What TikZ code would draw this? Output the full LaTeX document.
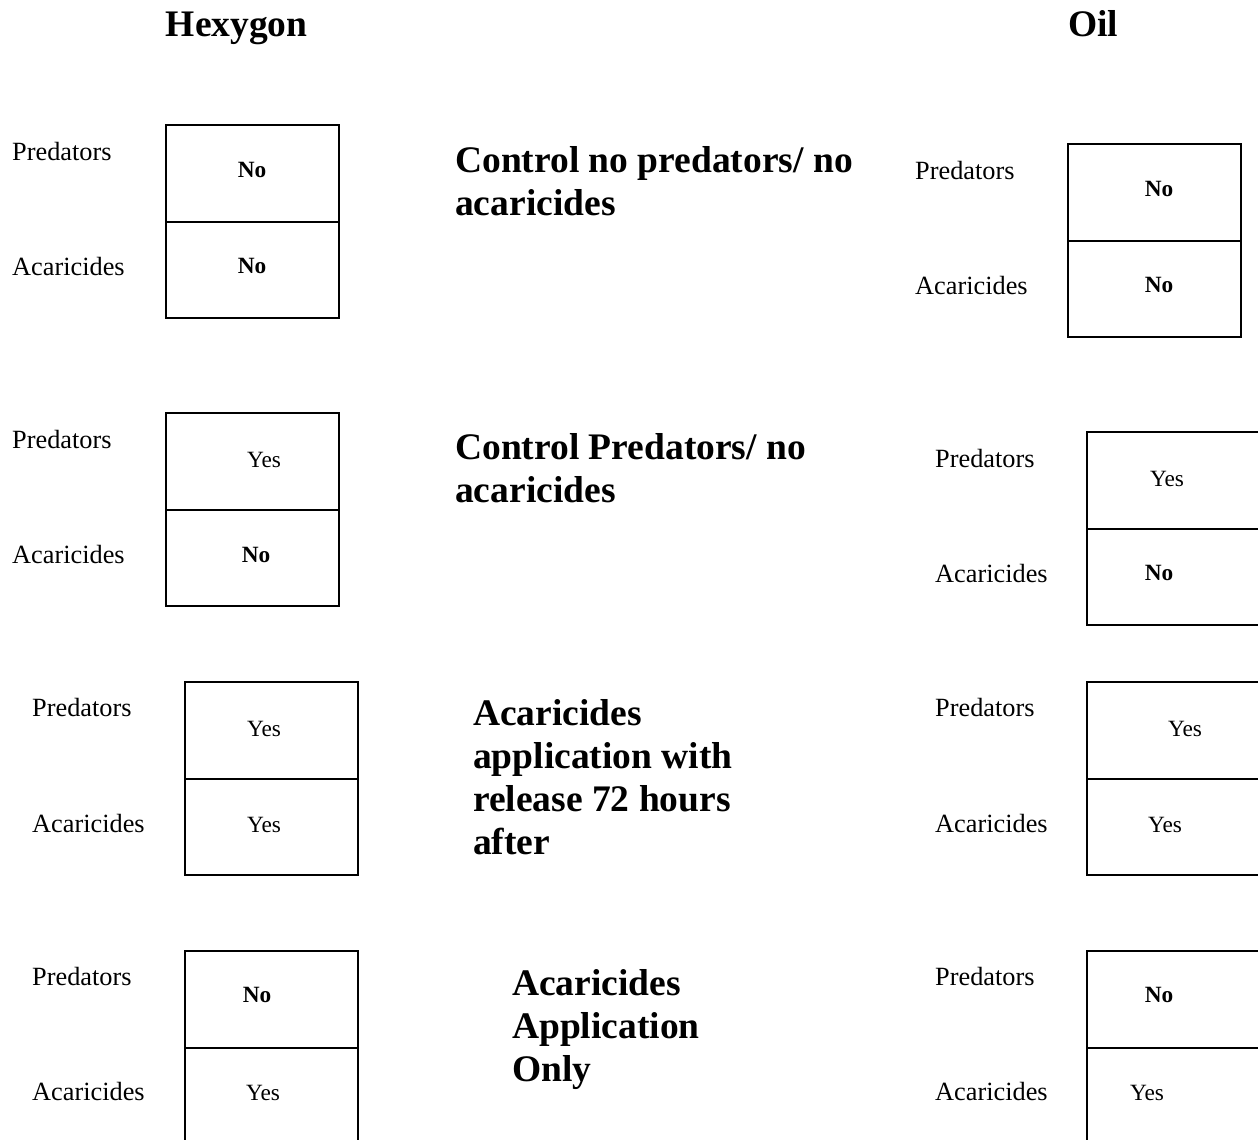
\documentclass[tikz,border=0pt]{standalone}
\usepackage{fontspec}
\setmainfont{Liberation Serif}
\begin{document}
\begin{tikzpicture}[x=1pt,y=-1pt,
  cell/.style={draw, line width=2pt, minimum width=173pt, minimum height=96.5pt, inner sep=0pt},
  lbl/.style={anchor=base west, inner sep=0pt, font=\fontsize{26.3}{30}\selectfont},
  val/.style={anchor=base, inner sep=0pt, font=\fontsize{23.3}{27}\selectfont},
  valb/.style={anchor=base, inner sep=0pt, font=\fontsize{23.3}{27}\selectfont\bfseries},
  ttl/.style={anchor=base, inner sep=0pt, font=\fontsize{37.5}{43}\selectfont\bfseries},
  mid/.style={anchor=base west, inner sep=0pt, font=\fontsize{37.5}{43}\selectfont\bfseries}]
\useasboundingbox (0,0) rectangle (1258,1140);
\clip (0,0) rectangle (1258,1140);

% titles
\node[ttl] (thex) at (236.7,37) {Hexygon};
\node[ttl] (toil) at (1093,37) {Oil};

% Hexygon boxes
\node[cell] (h1p) at (252.5,173.25) {};
\node[cell] (h1a) at (252.5,269.75) {};
\node[cell] (h2p) at (252.5,461.25) {};
\node[cell] (h2a) at (252.5,557.75) {};
\node[cell] (h3p) at (271.5,730.25) {};
\node[cell] (h3a) at (271.5,826.75) {};
\node[cell] (h4p) at (271.5,999.25) {};
\node[cell] (h4a) at (271.5,1095.75) {};

% Oil boxes
\node[cell] (o1p) at (1154.5,192.25) {};
\node[cell] (o1a) at (1154.5,288.75) {};
\node[cell] (o2p) at (1173.5,480.25) {};
\node[cell] (o2a) at (1173.5,576.75) {};
\node[cell] (o3p) at (1173.5,730.25) {};
\node[cell] (o3a) at (1173.5,826.75) {};
\node[cell] (o4p) at (1173.5,999.25) {};
\node[cell] (o4a) at (1173.5,1095.75) {};

% Hexygon values
\node[valb] (vh1p) at (252,177) {No};
\node[valb] (vh1a) at (252,273) {No};
\node[val]  (vh2p) at (264,467) {Yes};
\node[valb] (vh2a) at (256,562) {No};
\node[val]  (vh3p) at (264,736) {Yes};
\node[val]  (vh3a) at (264,832) {Yes};
\node[valb] (vh4p) at (257,1002) {No};
\node[val]  (vh4a) at (263,1100) {Yes};

% Oil values
\node[valb] (vo1p) at (1159,196) {No};
\node[valb] (vo1a) at (1159,292) {No};
\node[val]  (vo2p) at (1167,486) {Yes};
\node[valb] (vo2a) at (1159,580) {No};
\node[val]  (vo3p) at (1185,736) {Yes};
\node[val]  (vo3a) at (1165,832) {Yes};
\node[valb] (vo4p) at (1159,1002) {No};
\node[val]  (vo4a) at (1147,1100) {Yes};

% Hexygon labels
\node[lbl] (lh1p) at (12,160) {Predators};
\node[lbl] (lh1a) at (12,275) {Acaricides};
\node[lbl] (lh2p) at (12,448) {Predators};
\node[lbl] (lh2a) at (12,563) {Acaricides};
\node[lbl] (lh3p) at (32,716) {Predators};
\node[lbl] (lh3a) at (32,832) {Acaricides};
\node[lbl] (lh4p) at (32,985) {Predators};
\node[lbl] (lh4a) at (32,1100) {Acaricides};

% Oil labels
\node[lbl] (lo1p) at (915,179) {Predators};
\node[lbl] (lo1a) at (915,294) {Acaricides};
\node[lbl] (lo2p) at (935,467) {Predators};
\node[lbl] (lo2a) at (935,582) {Acaricides};
\node[lbl] (lo3p) at (935,716) {Predators};
\node[lbl] (lo3a) at (935,832) {Acaricides};
\node[lbl] (lo4p) at (935,985) {Predators};
\node[lbl] (lo4a) at (935,1100) {Acaricides};

% treatments
\node[mid] (m1) at (455,172) {\begin{tabular}[t]{@{}l@{}}Control no predators/ no\\acaricides\end{tabular}};
\node[mid] (m2) at (455,459) {\begin{tabular}[t]{@{}l@{}}Control Predators/ no\\acaricides\end{tabular}};
\node[mid] (m3) at (473,725) {\begin{tabular}[t]{@{}l@{}}Acaricides\\application with\\release 72 hours\\after\end{tabular}};
\node[mid] (m4) at (512,995) {\begin{tabular}[t]{@{}l@{}}Acaricides\\Application\\Only\end{tabular}};
\end{tikzpicture}
\end{document}
